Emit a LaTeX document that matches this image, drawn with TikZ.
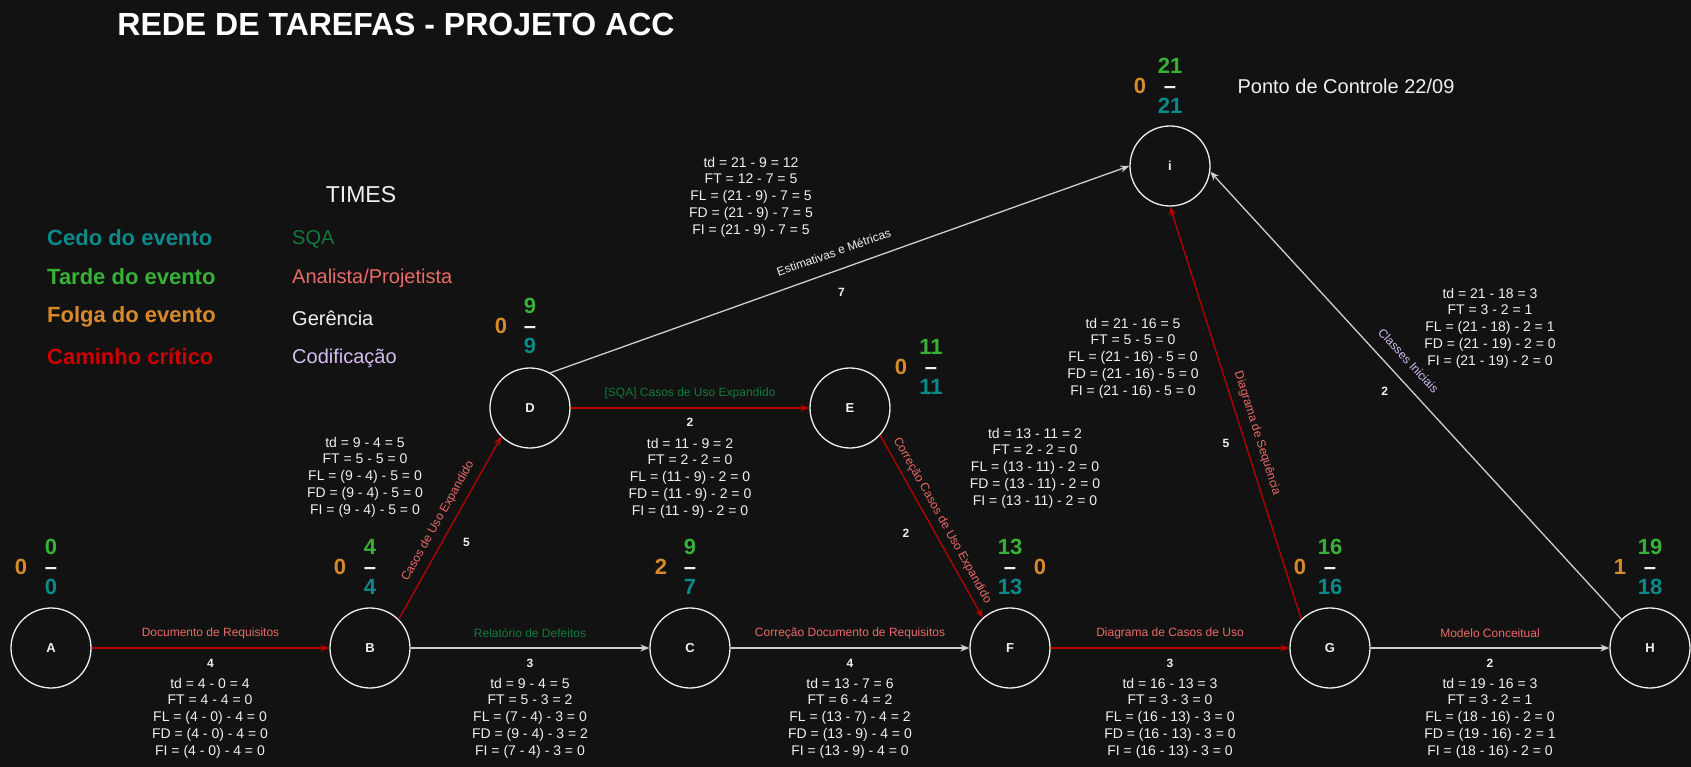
\documentclass[tikz,border=0pt]{standalone}
\usepackage{fontspec}
\setmainfont{Liberation Sans}
\usetikzlibrary{arrows.meta}

\begin{document}
\begin{tikzpicture}[x=1pt, y=-1pt,
    evento/.style={circle, draw=borda, line width=1.3pt, fill=fundo, minimum size=80pt,
                   inner sep=0pt, text=texto, font=\bfseries\fontsize{13}{15}\selectfont},
    tempo/.style={align=center, inner sep=0pt, font=\bfseries\fontsize{22}{20}\selectfont},
    folga/.style={inner sep=0pt, text=folgac, font=\bfseries\fontsize{22}{20}\selectfont},
    critico/.style={draw=critc, line width=1.3pt, -{Stealth[length=9pt, width=7pt]}},
    comum/.style={draw=linha, line width=1.3pt, -{Stealth[length=9pt, width=7pt]}},
    rotulo/.style={inner sep=1pt, font=\fontsize{12}{14}\selectfont},
    dur/.style={inner sep=0pt, text=texto, font=\bfseries\fontsize{12}{14}\selectfont},
    conta/.style={align=center, inner sep=0pt, text=texto, font=\fontsize{14}{16.7}\selectfont},
    leg/.style={anchor=west, inner sep=0pt, font=\bfseries\fontsize{22}{26}\selectfont},
    equipe/.style={anchor=west, inner sep=0pt, font=\fontsize{20}{24}\selectfont},
]

% Colors
\definecolor{fundo}{HTML}{121212}
\definecolor{texto}{HTML}{F0F0F0}
\definecolor{borda}{HTML}{EEEEEE}
\definecolor{linha}{HTML}{D0D0D0}
\definecolor{critc}{HTML}{B80000}
\definecolor{tarde}{HTML}{36B336}
\definecolor{cedo}{HTML}{0B8A8A}
\definecolor{folgac}{HTML}{D68A2A}
\definecolor{vermelho}{HTML}{CC0000}
\definecolor{sqa}{HTML}{137A3F}
\definecolor{analista}{HTML}{EA6B66}
\definecolor{gerencia}{HTML}{F0F0F0}
\definecolor{codif}{HTML}{D5BEF2}

\newcommand{\tempos}[7]{%
  \node[tempo] (#1-t) at (#2,#3) {\textcolor{tarde}{#4}\\\textcolor{texto}{–}\\\textcolor{cedo}{#5}};
  \node[folga] (#1-f) at (#7,#3) {#6};
}

\newcommand{\contas}[8]{%
  \node[conta] (#1) at (#2,#3) {#4\\#5\\#6\\#7\\#8};
}

\useasboundingbox (0,0) rectangle (1691,767);
\fill[fundo] (0,0) rectangle (1691,767);

% === Legend ===
\node[font=\bfseries\fontsize{32}{36}\selectfont, text=white, inner sep=0pt] (titulo) at (396,24) {REDE DE TAREFAS - PROJETO ACC};
\node[font=\fontsize{23}{26}\selectfont, text=texto, inner sep=0pt] (times) at (361,195) {TIMES};

\node[leg, text=cedo]     (lcedo)  at (47,238) {Cedo do evento};
\node[leg, text=tarde]    (ltarde) at (47,277) {Tarde do evento};
\node[leg, text=folgac]   (lfolga) at (47,317) {Folga do evento};
\node[leg, text=vermelho] (lcrit)  at (47,357) {Caminho crítico};

\node[equipe, text=sqa]      (esqa)  at (292,239) {SQA};
\node[equipe, text=analista] (eanal) at (292,278) {Analista/Projetista};
\node[equipe, text=gerencia] (eger)  at (292,318) {Gerência};
\node[equipe, text=codif]    (ecod)  at (292,358) {Codificação};

\node[font=\fontsize{20}{24}\selectfont, text=texto, inner sep=0pt] (ponto) at (1346,86) {Ponto de Controle 22/09};

% === Events ===
\node[evento] (A) at (51,648)   {A};
\node[evento] (B) at (370,648)  {B};
\node[evento] (C) at (690,648)  {C};
\node[evento] (F) at (1010,648) {F};
\node[evento] (G) at (1330,648) {G};
\node[evento] (H) at (1650,648) {H};
\node[evento] (D) at (530,408)  {D};
\node[evento] (E) at (850,408)  {E};
\node[evento] (I) at (1170,166) {i};

\tempos{A}{51}{567}{0}{0}{0}{21}
\tempos{B}{370}{567}{4}{4}{0}{340}
\tempos{C}{690}{567}{9}{7}{2}{661}
\tempos{F}{1010}{567}{13}{13}{0}{1040}
\tempos{G}{1330}{567}{16}{16}{0}{1300}
\tempos{H}{1650}{567}{19}{18}{1}{1620}
\tempos{D}{530}{326}{9}{9}{0}{501}
\tempos{E}{931}{367}{11}{11}{0}{901}
\tempos{I}{1170}{86}{21}{21}{0}{1140}

% === Activities ===
\draw[critico] (A) -- node[rotulo, text=analista, midway, yshift=15pt] (lAB) {Documento de Requisitos}
                      node[dur, midway, yshift=-15pt] (dAB) {4} (B);
\draw[comum] (B) -- node[rotulo, text=sqa, midway, yshift=15pt] (lBC) {Relatório de Defeitos}
                    node[dur, midway, yshift=-15pt] (dBC) {3} (C);
\draw[comum] (C) -- node[rotulo, text=analista, midway, yshift=15pt] (lCF) {Correção Documento de Requisitos}
                    node[dur, midway, yshift=-15pt] (dCF) {4} (F);
\draw[critico] (F) -- node[rotulo, text=analista, midway, yshift=15pt] (lFG) {Diagrama de Casos de Uso}
                      node[dur, midway, yshift=-15pt] (dFG) {3} (G);
\draw[comum] (G) -- node[rotulo, text=analista, midway, yshift=15pt] (lGH) {Modelo Conceitual}
                    node[dur, midway, yshift=-15pt] (dGH) {2} (H);

\draw[critico] (B.45) -- node[rotulo, text=analista, sloped, above=6.5pt, pos=0.5] (lBD) {Casos de Uso Expandido}
                         node[dur, pos=0.48, xshift=18.4pt, yshift=-10.4pt] (dBD) {5} (D.225);
\draw[critico] (D) -- node[rotulo, text=sqa, midway, yshift=15pt] (lDE) {[SQA] Casos de Uso Expandido}
                      node[dur, midway, yshift=-14pt] (dDE) {2} (E);
\draw[critico] (E.-42) -- node[rotulo, text=analista, sloped, above=5pt, pos=0.5] (lEF) {Correção Casos de Uso Expandido}
                          node[dur, pos=0.47, xshift=-22.5pt, yshift=-12.6pt] (dEF) {2} (F.132);
\draw[comum] (D.60) -- node[rotulo, text=gerencia, sloped, above=12pt, pos=0.5] (lDI) {Estimativas e Métricas}
                       node[dur, pos=0.49, xshift=7.5pt, yshift=-21pt] (dDI) {7} (I.west);
\draw[critico] (G.135) -- node[rotulo, text=analista, sloped, above=7pt, pos=0.44] (lGI) {Diagrama de Sequência}
                          node[dur, pos=0.44, xshift=-17.6pt, yshift=-5.6pt] (dGI) {5} (I.south);
\draw[comum] (H.135) -- node[rotulo, text=codif, sloped, above=12pt, pos=0.55] (lHI) {Classes Iniciais}
                        node[dur, pos=0.54, xshift=-14.6pt, yshift=-13.5pt] (dHI) {2} (I.-8);

% === Slack calculations ===
\contas{cAB}{210}{718}{td = 4 - 0 = 4}{FT = 4 - 4 = 0}{FL = (4 - 0) - 4 = 0}{FD = (4 - 0) - 4 = 0}{FI = (4 - 0) - 4 = 0}
\contas{cBC}{530}{718}{td = 9 - 4 = 5}{FT = 5 - 3 = 2}{FL = (7 - 4) - 3 = 0}{FD = (9 - 4) - 3 = 2}{FI = (7 - 4) - 3 = 0}
\contas{cCF}{850}{718}{td = 13 - 7 = 6}{FT = 6 - 4 = 2}{FL = (13 - 7) - 4 = 2}{FD = (13 - 9) - 4 = 0}{FI = (13 - 9) - 4 = 0}
\contas{cFG}{1170}{718}{td = 16 - 13 = 3}{FT = 3 - 3 = 0}{FL = (16 - 13) - 3 = 0}{FD = (16 - 13) - 3 = 0}{FI = (16 - 13) - 3 = 0}
\contas{cGH}{1490}{718}{td = 19 - 16 = 3}{FT = 3 - 2 = 1}{FL = (18 - 16) - 2 = 0}{FD = (19 - 16) - 2 = 1}{FI = (18 - 16) - 2 = 0}
\contas{cBD}{365}{477}{td = 9 - 4 = 5}{FT = 5 - 5 = 0}{FL = (9 - 4) - 5 = 0}{FD = (9 - 4) - 5 = 0}{FI = (9 - 4) - 5 = 0}
\contas{cDE}{690}{478}{td = 11 - 9 = 2}{FT = 2 - 2 = 0}{FL = (11 - 9) - 2 = 0}{FD = (11 - 9) - 2 = 0}{FI = (11 - 9) - 2 = 0}
\contas{cEF}{1035}{468}{td = 13 - 11 = 2}{FT = 2 - 2 = 0}{FL = (13 - 11) - 2 = 0}{FD = (13 - 11) - 2 = 0}{FI = (13 - 11) - 2 = 0}
\contas{cDI}{751}{197}{td = 21 - 9 = 12}{FT = 12 - 7 = 5}{FL = (21 - 9) - 7 = 5}{FD = (21 - 9) - 7 = 5}{FI = (21 - 9) - 7 = 5}
\contas{cGI}{1133}{358}{td = 21 - 16 = 5}{FT = 5 - 5 = 0}{FL = (21 - 16) - 5 = 0}{FD = (21 - 16) - 5 = 0}{FI = (21 - 16) - 5 = 0}
\contas{cHI}{1490}{328}{td = 21 - 18 = 3}{FT = 3 - 2 = 1}{FL = (21 - 18) - 2 = 1}{FD = (21 - 19) - 2 = 0}{FI = (21 - 19) - 2 = 0}
\end{tikzpicture}
\end{document}
